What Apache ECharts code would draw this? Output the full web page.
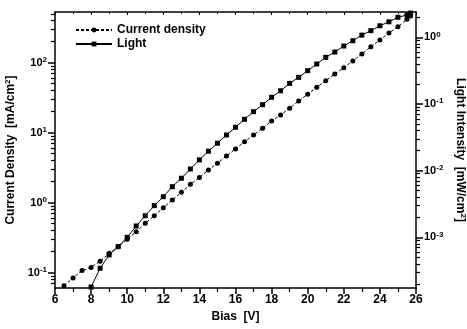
<!DOCTYPE html>
<html>
<head>
<meta charset="utf-8">
<script src="https://cdn.jsdelivr.net/npm/echarts@6/dist/echarts.min.js"></script>
<style>
  html, body { margin: 0; background: #fff; }
  #chart { width: 467px; height: 329px; }
</style>
</head>
<body>
<div id="chart"></div>
<script>
// bias [V] for the current density curve
const biasCurrent = [6.5, 7, 7.5, 8, 8.5, 9, 9.5, 10, 10.5, 11, 11.5, 12, 12.5, 13, 13.5, 14, 14.5, 15, 15.5, 16,
  16.5, 17, 17.5, 18, 18.5, 19, 19.5, 20, 20.5, 21, 21.5, 22, 22.5, 23, 23.5, 24, 24.5, 25, 25.5, 25.7];
// current density [mA/cm2]
const currentDensity = [0.065, 0.084, 0.107, 0.119, 0.146, 0.189, 0.235, 0.30, 0.385, 0.508, 0.652, 0.849, 1.09, 1.41, 1.83, 2.29, 2.93, 3.66, 4.65, 5.85,
  7.44, 9.27, 11.6, 14.7, 17.9, 22.3, 28.4, 35.4, 44.6, 55.3, 69.0, 84.9, 106, 133, 169, 211, 266, 327, 417, 464];

// bias [V] for the light curve
const biasLight = [8, 8.5, 9, 9.5, 10, 10.5, 11, 11.5, 12, 12.5, 13, 13.5, 14, 14.5, 15, 15.5, 16,
  16.5, 17, 17.5, 18, 18.5, 19, 19.5, 20, 20.5, 21, 21.5, 22, 22.5, 23, 23.5, 24, 24.5, 25, 25.5, 25.7];
// light intensity [mW/cm2]
const lightIntensity = [0.00018, 0.000344, 0.000544, 0.000726, 0.0010, 0.00148, 0.00211, 0.00299, 0.00407, 0.00575, 0.00769, 0.0106, 0.0145, 0.0196, 0.0258, 0.0343, 0.0448,
  0.059, 0.0767, 0.0977, 0.126, 0.158, 0.204, 0.251, 0.316, 0.398, 0.501, 0.602, 0.741, 0.889, 1.08, 1.26, 1.49, 1.71, 2.0, 2.16, 2.31];

// tick labels
const leftMajor = [0.1, 1, 10, 100];
const rightMajor = [0.001, 0.01, 0.1, 1];

const leftMin = Math.pow(10, -1.219), leftMax = Math.pow(10, 2.724);
const rightMin = Math.pow(10, -3.76), rightMax = Math.pow(10, 0.38);

function minorTicks(lo, hi) {
  const out = [];
  for (let d = -5; d <= 3; d++) {
    for (let m = 2; m <= 9; m++) {
      const v = m * Math.pow(10, d);
      if (v > lo && v < hi) out.push(v);
    }
  }
  return out;
}

const font = '"Liberation Sans", Arial, sans-serif';
const powLabel = (v) => '10{sup|' + Math.round(Math.log10(v)) + '}';
const labelRich = {
  sup: { fontSize: 8, fontWeight: 'bold', fontFamily: font, color: '#000', verticalAlign: 'top', padding: [0, 0, 6, 0] }
};
const nameRich = { s: { fontSize: 8, fontWeight: 'bold', fontFamily: font, color: '#000', verticalAlign: 'top', padding: [0, 0, 6, 0] } };

const chart = echarts.init(document.getElementById('chart'));

function logAxis(min, max, pos, major, name, gap, rot) {
  return {
    type: 'log', min: min, max: max, position: pos,
    name: name, nameLocation: 'middle', nameGap: gap, nameRotate: rot,
    nameTextStyle: { fontFamily: font, fontWeight: 'bold', fontSize: 12, color: '#000', rich: nameRich },
    splitLine: { show: false },
    axisLine: { show: true, onZero: false, lineStyle: { color: '#000', width: 1.5 } },
    axisTick: { show: true, length: 7, customValues: major, lineStyle: { color: '#000', width: 1.5 } },
    axisLabel: { customValues: major, formatter: powLabel, color: '#000', fontFamily: font,
      fontWeight: 'bold', fontSize: 11, margin: 8, rich: labelRich }
  };
}

function minorAxis(min, max, pos) {
  return {
    type: 'log', min: min, max: max, position: pos,
    axisLine: { show: false }, axisLabel: { show: false }, splitLine: { show: false },
    axisTick: { show: true, length: 4, customValues: minorTicks(min, max), lineStyle: { color: '#000', width: 1.2 } }
  };
}

chart.setOption({
  animation: false,
  grid: { left: 55, right: 51, top: 12, bottom: 41, outerBoundsMode: 'none' },
  legend: {
    left: 70, top: 19, orient: 'vertical',
    itemWidth: 36, itemHeight: 6, itemGap: 2,
    textStyle: { fontFamily: font, fontWeight: 'bold', fontSize: 12, color: '#000' },
    data: ['Current density', 'Light']
  },
  xAxis: [
    {
      type: 'value', min: 6, max: 26, interval: 2,
      name: 'Bias  [V]', nameLocation: 'middle', nameGap: 22,
      nameTextStyle: { fontFamily: font, fontWeight: 'bold', fontSize: 12, color: '#000' },
      axisLine: { lineStyle: { color: '#000', width: 1.5 } },
      axisTick: { length: 6, lineStyle: { color: '#000', width: 1.5 } },
      minorTick: { show: true, splitNumber: 2, length: 4, lineStyle: { color: '#000', width: 1.2 } },
      axisLabel: { color: '#000', fontFamily: font, fontWeight: 'bold', fontSize: 12, margin: 6 },
      splitLine: { show: false }
    },
    {
      type: 'value', min: 6, max: 26, interval: 2, position: 'top',
      axisLine: { lineStyle: { color: '#000', width: 1.5 } },
      axisTick: { inside: true, length: 3, lineStyle: { color: '#000' } },
      minorTick: { show: true, splitNumber: 2, length: 2, lineStyle: { color: '#000' } },
      axisLabel: { show: false },
      splitLine: { show: false }
    }
  ],
  yAxis: [
    logAxis(leftMin, leftMax, 'left', leftMajor, 'Current Density  [mA/cm{s|2}]', 37, 90),
    logAxis(rightMin, rightMax, 'right', rightMajor, 'Light Intensity  [mW/cm{s|2}]', 35, -90),
    minorAxis(leftMin, leftMax, 'left'),
    minorAxis(rightMin, rightMax, 'right')
  ],
  series: [
    {
      name: 'Current density', type: 'line', xAxisIndex: 0, yAxisIndex: 0,
      data: biasCurrent.map((b, i) => [b, currentDensity[i]]),
      symbol: 'circle', symbolSize: 5,
      itemStyle: { color: '#000' },
      lineStyle: { color: '#000', width: 1, type: [3, 2] }
    },
    {
      name: 'Light', type: 'line', xAxisIndex: 0, yAxisIndex: 1,
      data: biasLight.map((b, i) => [b, lightIntensity[i]]),
      symbol: 'rect', symbolSize: 5,
      itemStyle: { color: '#000' },
      lineStyle: { color: '#000', width: 1 }
    }
  ]
});
</script>
</body>
</html>
